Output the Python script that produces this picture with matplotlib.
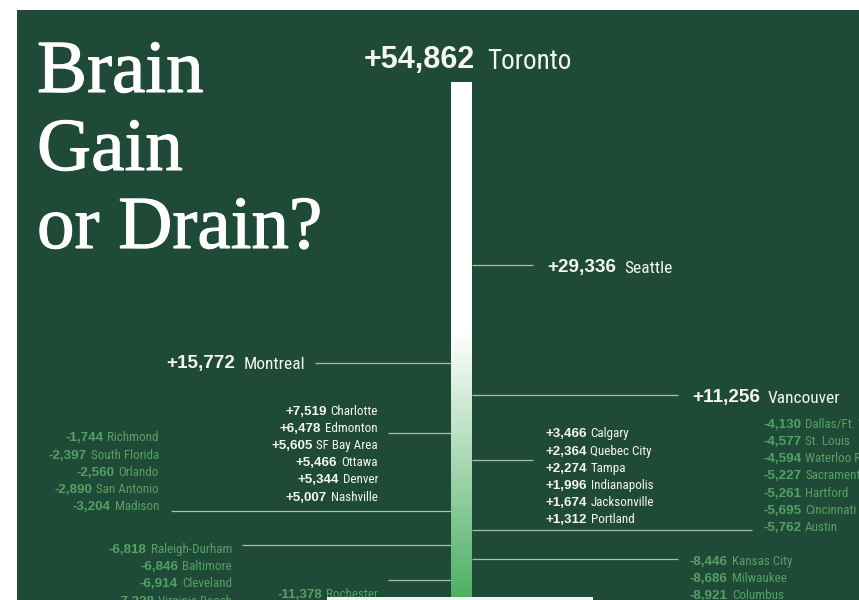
import numpy as np
import matplotlib
matplotlib.use('Agg')
import matplotlib.pyplot as plt
import matplotlib.patheffects as pe
from matplotlib.colors import to_rgb
from matplotlib.patches import Rectangle

# net migration of workers, by metro area
TOP_CITY = 'Toronto'
TOP_VALUE = 54862

SEATTLE = (['Seattle'], [29336])
MONTREAL = (['Montreal'], [15772])
VANCOUVER = (['Vancouver'], [11256])

GROUP_A_CITIES = ['Charlotte', 'Edmonton', 'SF Bay Area', 'Ottawa', 'Denver', 'Nashville']
GROUP_A_VALUES = [7519, 6478, 5605, 5466, 5344, 5007]
GROUP_B_CITIES = ['Calgary', 'Quebec City', 'Tampa', 'Indianapolis', 'Jacksonville', 'Portland']
GROUP_B_VALUES = [3466, 2364, 2274, 1996, 1674, 1312]
GROUP_C_CITIES = ['Richmond', 'South Florida', 'Orlando', 'San Antonio', 'Madison']
GROUP_C_VALUES = [-1744, -2397, -2560, -2890, -3204]
GROUP_D_CITIES = ['Dallas/Ft. Worth', 'St. Louis', 'Waterloo Region', 'Sacramento',
                  'Hartford', 'Cincinnati', 'Austin']
GROUP_D_VALUES = [-4130, -4577, -4594, -5227, -5261, -5695, -5762]
GROUP_E_CITIES = ['Raleigh-Durham', 'Baltimore', 'Cleveland', 'Virginia Beach']
GROUP_E_VALUES = [-6818, -6846, -6914, -7228]
GROUP_F_CITIES = ['Kansas City', 'Milwaukee', 'Columbus']
GROUP_F_VALUES = [-8446, -8686, -8921]
GROUP_G_CITIES = ['Rochester']
GROUP_G_VALUES = [-11378]

BG = '#1f4a37'
POS_COLOR = '#f5f5f2'
NEG_COLOR = '#56a064'
LINE_COLOR = '#a5c2ab'
BAR_GREEN = '#4caf62'
NUM_FONT = ['Liberation Sans', 'DejaVu Sans']
NAME_FONT = ['Roboto Condensed', 'DejaVu Sans']

# the axis is broken at zero: losses are drawn a little stretched and pushed down
NEG_STRETCH = 1.1
ZERO_GAP = 2050


def forward(v):
    v = np.asarray(v, dtype=float)
    return np.where(v >= 0, v, NEG_STRETCH * v - ZERO_GAP)


def inverse(t):
    t = np.asarray(t, dtype=float)
    return np.where(t >= 0, t, np.minimum((t + ZERO_GAP) / NEG_STRETCH, 0))


fig = plt.figure(figsize=(8.59, 6.0), dpi=100, facecolor='white')
ax = fig.add_axes([17 / 859, 0, 842 / 859, 590 / 600])
ax.set_facecolor(BG)
ax.set_yscale('function', functions=(forward, inverse))
ax.set_xlim(0, 842)
ax.set_ylim(-13900, 64950)
for s in ax.spines.values():
    s.set_visible(False)
ax.set_xticks([])
ax.set_yticks([])
ax.minorticks_off()

# the column, white on top fading to green
BAR_X, BAR_W = 444.5, 21
FADE_START = 20000
bar_bottom = ax.get_ylim()[0] - 5000
bar = ax.bar(BAR_X, TOP_VALUE - bar_bottom, bottom=bar_bottom, width=BAR_W,
             color='white', zorder=2, linewidth=0)[0]
fade_y = ax.transAxes.inverted().transform(ax.transData.transform((0, FADE_START)))[1]
ys = np.linspace(0, 1, 600)
frac = np.clip((fade_y - ys) / fade_y, 0, 1)
grad = (1 - frac)[:, None] * np.ones(3) + frac[:, None] * np.array(to_rgb(BAR_GREEN))
x0 = (BAR_X - BAR_W / 2) / 842
x1 = (BAR_X + BAR_W / 2) / 842
im = ax.imshow(grad[::-1][:, None, :], extent=(x0, x1, 0, 1), transform=ax.transAxes,
               aspect='auto', interpolation='bilinear', zorder=3)
im.set_clip_path(bar)
ax.set_xlim(0, 842)
ax.set_ylim(-13900, 64950)

ROW_STEP = 17.2
SMALL = (9.6, 9.4, 4.8, 4)    # number size, name size, half cap height px, gap px
BIG = (13.6, 12.5, 6.8, 8)


def draw_group(cities, values, side, line_len, gap, row0, sizes):
    nsize, csize, half_cap, name_gap = sizes
    anchor = np.mean(values)
    color = POS_COLOR if anchor > 0 else NEG_COLOR
    if side == 'right':
        xs = BAR_X + BAR_W / 2
        xe = xs + line_len
    else:
        xs = BAR_X - BAR_W / 2
        xe = xs - line_len
    ax.plot([xs, xe], [anchor, anchor], color=LINE_COLOR, lw=0.9, zorder=1,
            solid_capstyle='butt')
    for i, (city, val) in enumerate(zip(cities, values)):
        dy = -(row0 + i * ROW_STEP) - half_cap
        num = f'{val:+,}'
        if side == 'right':
            t = ax.annotate(num, xy=(xe, anchor), xytext=(gap, dy), textcoords='offset pixels',
                            ha='left', va='baseline', fontsize=nsize, fontweight='bold',
                            family=NUM_FONT, color=color)
            ax.annotate(city, xy=(1, 0), xycoords=t, xytext=(name_gap, 0),
                        textcoords='offset pixels', ha='left', va='bottom', fontsize=csize,
                        family=NAME_FONT, color=color)
        else:
            t = ax.annotate(city, xy=(xe, anchor), xytext=(-gap, dy), textcoords='offset pixels',
                            ha='right', va='baseline', fontsize=csize,
                            family=NAME_FONT, color=color)
            ax.annotate(num, xy=(0, 0), xycoords=t, xytext=(-name_gap, 0),
                        textcoords='offset pixels', ha='right', va='bottom', fontsize=nsize,
                        fontweight='bold', family=NUM_FONT, color=color)


draw_group(*SEATTLE, 'right', 61, 14, 0, BIG)
draw_group(*MONTREAL, 'left', 136, 10, 0, BIG)
draw_group(*VANCOUVER, 'right', 206, 14, 0, BIG)
draw_group(GROUP_A_CITIES, GROUP_A_VALUES, 'left', 63, 10, -23.6, SMALL)
draw_group(GROUP_B_CITIES, GROUP_B_VALUES, 'right', 61, 12, -27.5, SMALL)
draw_group(GROUP_C_CITIES, GROUP_C_VALUES, 'left', 280, 12, -74, SMALL)
draw_group(GROUP_D_CITIES, GROUP_D_VALUES, 'right', 280, 11, -107, SMALL)
draw_group(GROUP_E_CITIES, GROUP_E_VALUES, 'left', 209, 10, 3, SMALL)
draw_group(GROUP_F_CITIES, GROUP_F_VALUES, 'right', 206, 12, 1, SMALL)
draw_group(GROUP_G_CITIES, GROUP_G_VALUES, 'left', 63, 10, 13, SMALL)

# Toronto on top of the column
top = ax.annotate(f'{TOP_VALUE:+,}', xy=(BAR_X + BAR_W / 2, TOP_VALUE), xytext=(3, 14),
                  textcoords='offset pixels', ha='right', va='baseline', fontsize=22,
                  fontweight='bold', family=NUM_FONT, color=POS_COLOR)
ax.annotate(TOP_CITY, xy=(1, 0), xycoords=top, xytext=(12, 0), textcoords='offset pixels',
            ha='left', va='bottom', fontsize=19.5, family=NAME_FONT, color=POS_COLOR)

# title
for i, line in enumerate(['Brain', 'Gain', 'or Drain?']):
    fig.text(37 / 859, 1 - (92 + 78 * i) / 600, line, fontsize=54,
             family=['Liberation Serif', 'DejaVu Serif'], color='white', ha='left', va='baseline',
             path_effects=[pe.withStroke(linewidth=0.8, foreground='white')])

# start of the white caption box below
fig.patches.append(Rectangle((327 / 859, 0), 266 / 859, 3 / 600, transform=fig.transFigure,
                             facecolor='#f2f2f2', edgecolor='none', zorder=5))

fig.savefig('out.png', dpi=100, facecolor='white')
